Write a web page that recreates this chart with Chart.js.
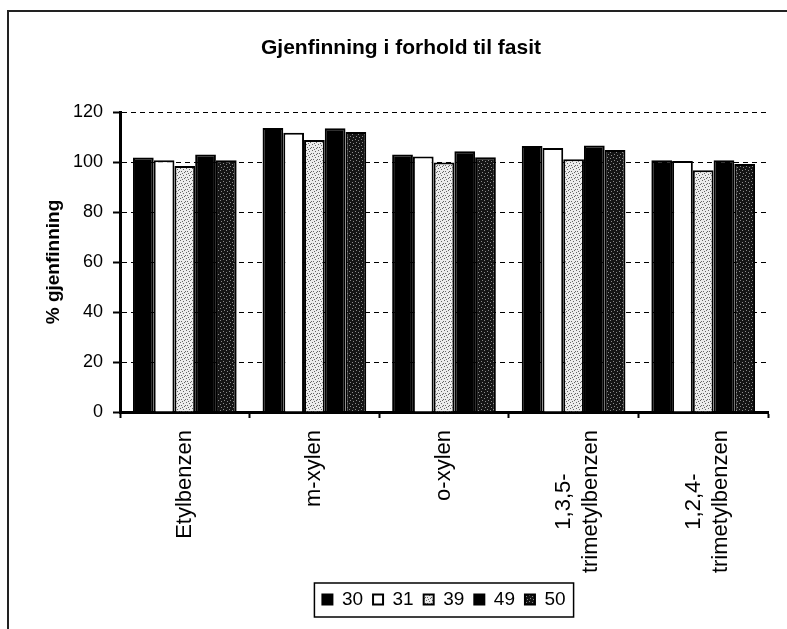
<!DOCTYPE html>
<html>
<head>
<meta charset="utf-8">
<script src="https://cdn.jsdelivr.net/npm/chart.js@4.4.1/dist/chart.umd.min.js"></script>
<style>
  html, body { margin: 0; padding: 0; background: #fff; }
</style>
</head>
<body>
<canvas id="myChart1" width="787" height="629"></canvas>
<script>
  // Compounds and recovery (% of reference value) per sample
  const labels1 = ['Etylbenzen', 'm-xylen', 'o-xylen', ['1,3,5-', 'trimetylbenzen'], ['1,2,4-', 'trimetylbenzen']];
  const data30 = [101.8, 113.6, 103.0, 106.4, 100.7];
  const data31 = [100.7, 111.7, 102.2, 105.6, 100.4];
  const data39 = [98.4, 108.8, 99.8, 101.1, 96.7];
  const data49 = [103.0, 113.5, 104.3, 106.6, 100.7];
  const data50 = [100.7, 112.0, 101.9, 104.8, 99.2];
  const yTicks = [0, 20, 40, 60, 80, 100, 120];

  const FONT = '"Liberation Sans", Arial, sans-serif';

  // small stipple textures for the grey bars
  function stipple(bg, fg, dots) {
    const c = document.createElement('canvas');
    c.width = 6; c.height = 6;
    const g = c.getContext('2d');
    g.fillStyle = bg;
    g.fillRect(0, 0, 6, 6);
    g.fillStyle = fg;
    dots.forEach(d => g.fillRect(d[0], d[1], 1, 1));
    return g.createPattern(c, 'repeat');
  }
  const lightDots = stipple('#ececec', '#666', [[0, 0], [3, 1], [5, 3], [1, 3], [4, 4], [2, 5]]);
  const darkDots = stipple('#151515', '#8a8a8a', [[1, 1], [4, 2], [2, 4], [5, 5]]);

  // outer frame (top and left edges)
  const framePlugin = {
    id: 'frame',
    beforeDraw(chart) {
      const c = chart.ctx;
      c.save();
      c.strokeStyle = '#222';
      c.lineWidth = 2;
      c.beginPath();
      c.moveTo(8, chart.height);
      c.lineTo(8, 11);
      c.lineTo(chart.width, 11);
      c.stroke();
      c.restore();
    }
  };

  // rotated category labels, lines centred on each other
  const catLabels = {
    id: 'catLabels',
    afterDraw(chart) {
      const c = chart.ctx;
      const xs = chart.scales.x;
      const top = chart.chartArea.bottom + 18;
      const lineH = 27;
      c.save();
      c.font = '22px ' + FONT;
      c.fillStyle = '#000';
      c.textAlign = 'center';
      c.textBaseline = 'middle';
      labels1.forEach((lab, i) => {
        const lines = Array.isArray(lab) ? lab : [lab];
        const w = Math.max(...lines.map(l => c.measureText(l).width));
        const x = xs.getPixelForValue(i) + (lines.length > 1 ? 4 : 0);
        c.save();
        c.translate(x, top);
        c.rotate(-Math.PI / 2);
        lines.forEach((l, k) => {
          c.fillText(l, -w / 2, (k - (lines.length - 1) / 2) * lineH);
        });
        c.restore();
      });
      c.restore();
    }
  };

  // box round the legend
  const legendBox = {
    id: 'legendBox',
    afterDraw(chart) {
      const lg = chart.legend;
      if (!lg || !lg.legendHitBoxes.length) return;
      const hb = lg.legendHitBoxes;
      const left = Math.min(...hb.map(h => h.left)) - 8;
      const right = Math.max(...hb.map(h => h.left + h.width)) + 8;
      const top = hb[0].top - 7;
      const bottom = hb[0].top + hb[0].height + 8;
      const c = chart.ctx;
      c.save();
      c.strokeStyle = '#000';
      c.lineWidth = 1.5;
      c.strokeRect(left, top, right - left, bottom - top);
      c.restore();
    }
  };

  const config1 = {
    type: 'bar',
    data: {
      labels: labels1,
      datasets: [
        { label: '30', data: data30, backgroundColor: '#000', borderColor: '#000', borderWidth: 2 },
        { label: '31', data: data31, backgroundColor: '#fff', borderColor: '#000', borderWidth: 2 },
        { label: '39', data: data39, backgroundColor: lightDots, borderColor: '#000', borderWidth: 2 },
        { label: '49', data: data49, backgroundColor: '#000', borderColor: '#000', borderWidth: 2 },
        { label: '50', data: data50, backgroundColor: darkDots, borderColor: '#000', borderWidth: 2 }
      ]
    },
    options: {
      responsive: false,
      animation: false,
      datasets: { bar: { categoryPercentage: 0.8, barPercentage: 1.0, borderSkipped: 'start' } },
      layout: { padding: { left: 34, right: 19, top: 0, bottom: 10 } },
      plugins: {
        title: {
          display: true,
          text: 'Gjenfinning i forhold til fasit',
          color: '#000',
          font: { family: FONT, size: 21, weight: 'bold' },
          padding: { top: 35.4, bottom: 51.4 }
        },
        legend: {
          position: 'bottom',
          fullSize: false,
          labels: {
            color: '#000',
            font: { family: FONT, size: 19 },
            boxWidth: 10,
            boxHeight: 10,
            padding: 10
          }
        },
        tooltip: { enabled: false }
      },
      scales: {
        x: {
          ticks: { display: false },
          grid: { drawOnChartArea: false, drawTicks: true, tickLength: 6, tickWidth: 2, tickColor: '#000' },
          border: { display: true, color: '#000', width: 3 },
          afterFit(s) { s.height = 168; }
        },
        y: {
          min: 0,
          max: 120,
          afterBuildTicks(s) { s.ticks = yTicks.map(v => ({ value: v })); },
          ticks: { color: '#000', padding: 10, font: { family: FONT, size: 18 } },
          grid: { color: '#000', lineWidth: 1, tickLength: 7, tickWidth: 2, tickColor: '#000', tickBorderDash: [] },
          border: { display: true, color: '#000', width: 3, dash: [5, 4] },
          title: {
            display: true,
            text: '% gjenfinning',
            color: '#000',
            font: { family: FONT, size: 19, weight: 'bold' },
            padding: { top: 8.6, bottom: 0 }
          },
          afterFit(s) { s.width = 86; }
        }
      }
    },
    plugins: [framePlugin, catLabels, legendBox]
  };

  const ctx = document.getElementById('myChart1').getContext('2d');
  const myChart1 = new Chart(ctx, config1);
</script>
</body>
</html>
